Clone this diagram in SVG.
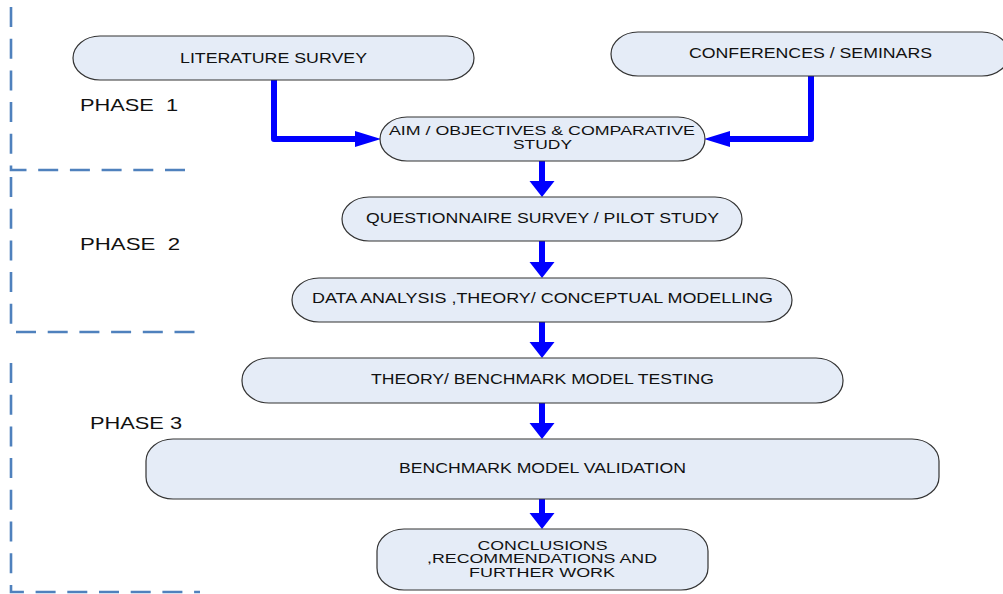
<svg xmlns="http://www.w3.org/2000/svg" width="1003" height="594" viewBox="0 0 1003 594">
<style>
.node{fill:#E5ECF7;stroke:#333;stroke-width:1.2}
.t{font-family:"Liberation Sans",Arial,sans-serif;font-size:14px;fill:#111;text-anchor:middle}
.s{font-size:12.5px}
.ph{font-family:"Liberation Sans",Arial,sans-serif;font-size:16.5px;fill:#111}
.dash{fill:none;stroke:#4F81BD;stroke-width:2.6;stroke-dasharray:20 11.7}
.shaft{fill:none;stroke:#0000FF;stroke-width:6;stroke-linecap:round}
.head{fill:#0000FF}
</style>
<rect width="1003" height="594" fill="#fff"/>
<g id="phases">
<path class="dash" d="M11,7 V170 H185"/>
<path class="dash" d="M11,177 V326"/>
<path class="dash" d="M16,332 H196"/>
<path class="dash" d="M11,363 V592 H200"/>
<text class="ph" x="80" y="111" xml:space="preserve" textLength="98" lengthAdjust="spacingAndGlyphs">PHASE  1</text>
<text class="ph" x="80" y="250" xml:space="preserve" textLength="100" lengthAdjust="spacingAndGlyphs">PHASE  2</text>
<text class="ph" x="90" y="429" textLength="92" lengthAdjust="spacingAndGlyphs">PHASE 3</text>
</g>
<g id="connectors">
<path class="shaft" d="M274,79 V139 H358" stroke-linejoin="round"/>
<polygon class="head" points="355,131 381,139 355,147"/>
<path class="shaft" d="M811,75 V139 H728" stroke-linejoin="round"/>
<polygon class="head" points="730,131 704,139 730,147"/>
<path class="shaft" d="M542,159 V183"/>
<polygon class="head" points="529.5,181 554.5,181 542,197"/>
<path class="shaft" d="M542,239 V264"/>
<polygon class="head" points="529.5,262 554.5,262 542,278"/>
<path class="shaft" d="M542,320 V344"/>
<polygon class="head" points="529.5,342 554.5,342 542,358"/>
<path class="shaft" d="M542,401 V425"/>
<polygon class="head" points="529.5,423 554.5,423 542,439"/>
<path class="shaft" d="M542,498 V515"/>
<polygon class="head" points="529.5,513 554.5,513 542,529"/>
</g>
<g id="literature">
<rect class="node" x="73" y="36" width="401" height="44" rx="27" ry="22"/>
<text class="t" x="273.5" y="63" font-size="15" textLength="187" lengthAdjust="spacingAndGlyphs">LITERATURE SURVEY</text>
</g>
<g id="conferences">
<rect class="node" x="611" y="32" width="398" height="44" rx="27" ry="22"/>
<text class="t" x="810.5" y="58" textLength="243" lengthAdjust="spacingAndGlyphs">CONFERENCES / SEMINARS</text>
</g>
<g id="aim">
<rect class="node" x="380" y="117" width="325" height="44" rx="27" ry="22"/>
<text class="t s" x="542" y="134.5" textLength="306" lengthAdjust="spacingAndGlyphs">AIM / OBJECTIVES &amp; COMPARATIVE</text>
<text class="t s" x="542.5" y="148.5" textLength="59" lengthAdjust="spacingAndGlyphs">STUDY</text>
</g>
<g id="questionnaire">
<rect class="node" x="342" y="197" width="400" height="44" rx="27" ry="22"/>
<text class="t" x="542.5" y="223" textLength="353" lengthAdjust="spacingAndGlyphs">QUESTIONNAIRE SURVEY / PILOT STUDY</text>
</g>
<g id="data">
<rect class="node" x="292" y="278" width="500" height="44" rx="27" ry="22"/>
<text class="t" x="542.5" y="303" textLength="461" lengthAdjust="spacingAndGlyphs">DATA ANALYSIS ,THEORY/ CONCEPTUAL MODELLING</text>
</g>
<g id="theory">
<rect class="node" x="242" y="358" width="601" height="45" rx="27" ry="22"/>
<text class="t" x="542.5" y="384" textLength="343" lengthAdjust="spacingAndGlyphs">THEORY/ BENCHMARK MODEL TESTING</text>
</g>
<g id="validation">
<rect class="node" x="146" y="439" width="793" height="60" rx="27" ry="22"/>
<text class="t" x="542.5" y="473" textLength="287" lengthAdjust="spacingAndGlyphs">BENCHMARK MODEL VALIDATION</text>
</g>
<g id="conclusions">
<rect class="node" x="377" y="529" width="331" height="61" rx="27" ry="22"/>
<text class="t s" x="542.5" y="549.5" textLength="130" lengthAdjust="spacingAndGlyphs">CONCLUSIONS</text>
<text class="t s" x="542" y="563" textLength="230" lengthAdjust="spacingAndGlyphs">,RECOMMENDATIONS AND</text>
<text class="t s" x="542" y="576.5" textLength="146" lengthAdjust="spacingAndGlyphs">FURTHER WORK</text>
</g>
</svg>
